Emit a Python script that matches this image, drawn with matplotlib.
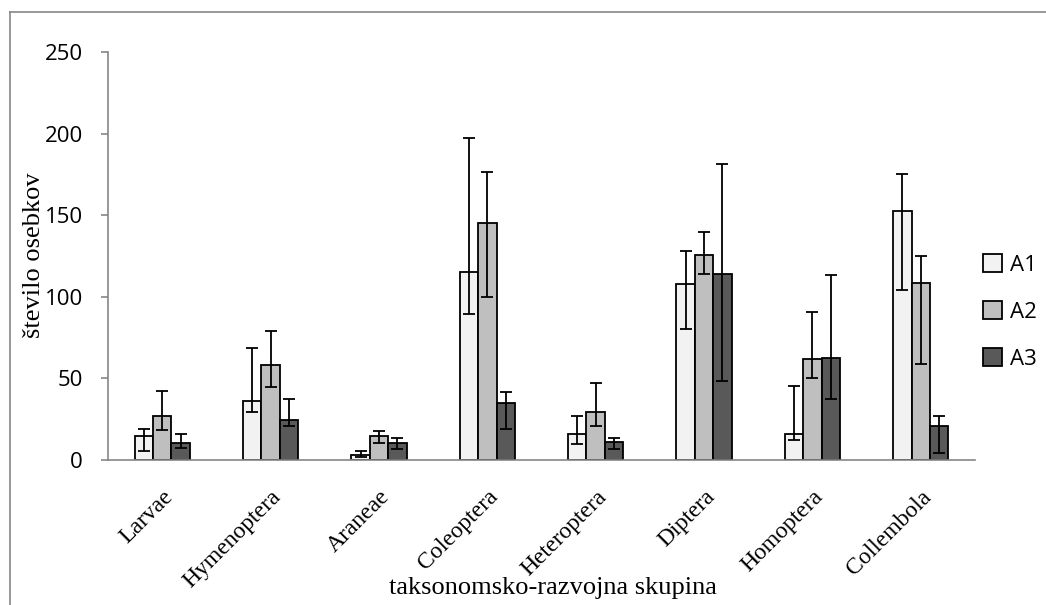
import numpy as np
import matplotlib
matplotlib.use("Agg")
import matplotlib.pyplot as plt
from matplotlib.lines import Line2D

# podatki (odcitano s slike)
skupine = ["Larvae", "Hymenoptera", "Araneae", "Coleoptera",
           "Heteroptera", "Diptera", "Homoptera", "Collembola"]
serije = ["A1", "A2", "A3"]

a1 = [14.7, 36.4, 2.9, 115.2, 15.9, 108.0, 15.9, 152.8]
a1_lo = [5.3, 29.2, 2.0, 89.5, 10.0, 80.0, 12.0, 104.0]
a1_hi = [19.0, 68.8, 5.7, 197.0, 27.0, 128.3, 45.2, 175.1]

a2 = [26.8, 58.2, 14.7, 145.2, 29.2, 125.6, 61.9, 108.7]
a2_lo = [18.6, 44.5, 10.4, 99.6, 21.0, 113.8, 50.4, 59.0]
a2_hi = [42.0, 78.8, 17.6, 176.3, 47.4, 139.9, 90.7, 125.0]

a3 = [10.6, 24.7, 10.2, 35.1, 11.2, 113.8, 62.7, 20.6]
a3_lo = [7.1, 21.0, 6.9, 18.8, 6.9, 48.4, 37.4, 4.3]
a3_hi = [15.9, 37.2, 13.3, 41.7, 13.7, 181.6, 113.6, 26.8]

barve = ["#F2F2F2", "#BFBFBF", "#595959"]
siva = "#868686"
serif = ["Liberation Serif", "DejaVu Serif"]

#---------------------------------------------
fig = plt.figure(figsize=(10.46, 6.05), dpi=100)
ax = fig.add_axes([108/1046, 1-460/605, (975-108)/1046, (460-52)/605])

x = np.arange(len(skupine))
w = 0.17
vrednosti = [(a1, a1_lo, a1_hi), (a2, a2_lo, a2_hi), (a3, a3_lo, a3_hi)]
for i, (v, lo, hi) in enumerate(vrednosti):
    v = np.array(v)
    err = [v - np.array(lo), np.array(hi) - v]
    ax.bar(x + (i-1)*w, v, w, color=barve[i], edgecolor="black",
           linewidth=1.3, label=serije[i], zorder=2)
    ax.errorbar(x + (i-1)*w, v, yerr=err, fmt="none", ecolor="black",
                elinewidth=1.3, capsize=4.5, capthick=1.3, zorder=3)

ax.set_xlim(-0.5, len(skupine)-0.5)
ax.set_ylim(0, 250)
ax.set_yticks(range(0, 251, 50))

for s in ["top", "right"]:
    ax.spines[s].set_visible(False)
for s in ["left", "bottom"]:
    ax.spines[s].set_color(siva)
    ax.spines[s].set_linewidth(1.2)

ax.tick_params(axis="y", length=5, width=1.2, color=siva, pad=13,
               labelsize=16, labelfontfamily="Open Sans")
ax.tick_params(axis="x", length=0, pad=19)
ax.set_xticks(x)
ax.set_xticklabels(skupine, rotation=45, ha="right", va="top",
                   rotation_mode="anchor", fontsize=17, family=serif)

fig.text(553/1046, 1-588/605, "taksonomsko-razvojna skupina",
         ha="center", va="center", fontsize=19, family=serif)
fig.text(34/1046, 1-255/605, "število osebkov", rotation=90,
         ha="center", va="center", fontsize=19, family=serif)

leg = ax.legend(loc="center left", bbox_to_anchor=(0.986, 0.363),
                frameon=False, handlelength=0.85, handleheight=0.85,
                handletextpad=0.35, labelspacing=1.15,
                prop={"family": "Open Sans", "size": 16})

# okvir grafa
fig.add_artist(Line2D([10/1046, 1], [1-12/605, 1-12/605],
                      color=siva, linewidth=1.2))
fig.add_artist(Line2D([10/1046, 10/1046], [0, 1-12/605],
                      color=siva, linewidth=1.2))

fig.savefig("out.png", dpi=100)
